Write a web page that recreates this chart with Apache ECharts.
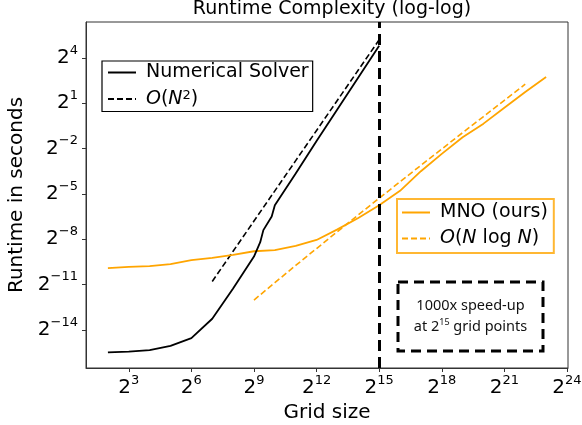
<!DOCTYPE html>
<html>
<head>
<meta charset="UTF-8">
<title>Runtime Complexity</title>
<script src="https://cdn.jsdelivr.net/npm/echarts@6/dist/echarts.min.js"></script>
<style>
    html, body { margin: 0; padding: 0; background: #fff; }
    #chart { width: 582px; height: 425px; }
</style>
</head>
<body>
<div id="chart"></div>
<script>
// all values are log2: grid size N = 2^x, runtime in seconds = 2^y
var solverN = [2, 3, 4, 5, 6, 7, 8, 9, 9.3, 9.45, 9.85, 10, 11, 12, 13, 14, 15];
var solverT = [-15.5, -15.45, -15.34, -15.07, -14.55, -13.27, -11.27, -9.15, -8.2, -7.4, -6.5, -5.75, -3.65, -1.5, 0.6, 2.7, 4.8];

var quadN = [7, 8, 9, 10, 11, 12, 13, 14, 15];
var quadT = [-10.8, -8.8, -6.8, -4.8, -2.8, -0.8, 1.2, 3.2, 5.2];

var mnoN = [2, 3, 4, 5, 6, 7, 8, 9, 10, 11, 12, 13, 14, 15, 16, 17, 18, 19, 20, 21, 22, 23];
var mnoT = [-9.92, -9.83, -9.79, -9.65, -9.39, -9.24, -9.04, -8.8, -8.72, -8.45, -8.05, -7.35, -6.6, -5.75,
            -4.8, -3.5, -2.35, -1.25, -0.35, 0.7, 1.75, 2.74];

var nlognN = [9, 10, 11, 12, 13, 14, 15, 16, 17, 18, 19, 20, 21, 22];
var nlognT = [-12.03, -10.88, -9.74, -8.62, -7.5, -6.39, -5.29, -4.2, -3.11, -2.03, -0.95, 0.12, 1.19, 2.26];

var xTicks = [3, 6, 9, 12, 15, 18, 21, 24];
var yTicks = [-14, -11, -8, -5, -2, 1, 4];
var speedupAt = 15;

var legendText = {
    'Numerical Solver': '{t|Numerical Solver}',
    'O(N^2)': '{i|O}{t|(}{i|N}{s|2}{t|)}',
    'MNO (ours)': '{t|MNO (ours)}',
    'O(N log N)': '{i|O}{t|(}{i|N}{t| log }{i|N}{t|)}'
};

function pairs(xs, ys) {
    return xs.map(function (x, i) { return [x, ys[i]]; });
}
function pow2(v) {
    return '{b|2}{s|' + String(v).replace('-', '\u2212') + '}';
}

var font = 'DejaVu Sans';
var tickRich = {
    b: { fontFamily: font, fontSize: 20, lineHeight: 28, color: '#000' },
    s: { fontFamily: font, fontSize: 13, lineHeight: 13, verticalAlign: 'top', color: '#000' }
};
var legendRich = {
    t: { fontFamily: font, fontSize: 19, lineHeight: 20, color: '#000' },
    i: { fontFamily: font, fontSize: 19, lineHeight: 20, fontStyle: 'italic', color: '#000' },
    s: { fontFamily: font, fontSize: 13, lineHeight: 11, verticalAlign: 'top', color: '#000' }
};

var chart = echarts.init(document.getElementById('chart'));

var option = {
    animation: false,
    title: {
        text: 'Runtime Complexity (log-log)',
        left: 327,
        textAlign: 'center',
        top: -5,
        textStyle: { fontFamily: font, fontSize: 19, fontWeight: 'normal', color: '#000' }
    },
    grid: {
        left: 86, right: 14, top: 22, bottom: 57,
        outerBoundsMode: 'none',
        show: true, borderColor: '#333', borderWidth: 1
    },
    legend: [{
        data: ['Numerical Solver', 'O(N^2)'],
        orient: 'vertical',
        left: 102, top: 61,
        padding: [2, 4, 3, 5],
        itemGap: 7, itemWidth: 28, itemHeight: 14,
        borderColor: '#000', borderWidth: 1.2,
        backgroundColor: '#fff',
        selectedMode: false,
        itemStyle: { opacity: 0 },
        formatter: function (name) { return legendText[name]; },
        textStyle: { padding: [0, 0, 0, 5], rich: legendRich }
    }, {
        data: ['MNO (ours)', 'O(N log N)'],
        orient: 'vertical',
        left: 397, top: 199,
        padding: [4, 6, 5, 4],
        itemGap: 7, itemWidth: 28, itemHeight: 14,
        borderColor: '#ffb732', borderWidth: 2,
        backgroundColor: '#fff',
        selectedMode: false,
        itemStyle: { opacity: 0 },
        formatter: function (name) { return legendText[name]; },
        textStyle: { padding: [0, 0, 0, 5], rich: legendRich }
    }],
    xAxis: {
        type: 'value',
        min: 0.95, max: 24.05,
        name: 'Grid size',
        nameLocation: 'middle',
        nameGap: 32,
        nameTextStyle: { fontFamily: font, fontSize: 20, color: '#000' },
        axisLine: { onZero: false, lineStyle: { color: '#333', width: 1 } },
        axisTick: { customValues: xTicks, length: 4, lineStyle: { color: '#333' } },
        axisLabel: { customValues: xTicks, formatter: pow2, margin: 6, rich: tickRich },
        splitLine: { show: false }
    },
    yAxis: {
        type: 'value',
        min: -16.53, max: 6.38,
        name: 'Runtime in seconds',
        nameLocation: 'middle',
        nameGap: 56,
        nameTextStyle: { fontFamily: font, fontSize: 20, color: '#000' },
        axisLine: { show: true, onZero: false, lineStyle: { color: '#333', width: 1 } },
        axisTick: { show: true, customValues: yTicks, length: 4, lineStyle: { color: '#333' } },
        axisLabel: { customValues: yTicks, formatter: pow2, margin: 8, rich: tickRich },
        splitLine: { show: false }
    },
    series: [{
        name: 'Numerical Solver',
        type: 'line',
        data: pairs(solverN, solverT),
        symbol: 'none',
        z: 4,
        itemStyle: { color: '#000' },
        lineStyle: { color: '#000', width: 1.8 },
        markLine: {
            silent: true,
            symbol: ['none', 'none'],
            label: { show: false },
            lineStyle: { color: '#000', width: 3, type: [11, 6] },
            data: [{ xAxis: speedupAt }]
        }
    }, {
        name: 'O(N^2)',
        type: 'line',
        data: pairs(quadN, quadT),
        symbol: 'none',
        itemStyle: { color: '#000' },
        lineStyle: { color: '#000', width: 1.6, type: [6, 3] }
    }, {
        name: 'MNO (ours)',
        type: 'line',
        data: pairs(mnoN, mnoT),
        symbol: 'none',
        itemStyle: { color: '#ffa500' },
        lineStyle: { color: '#ffa500', width: 1.8 }
    }, {
        name: 'O(N log N)',
        type: 'line',
        data: pairs(nlognN, nlognT),
        symbol: 'none',
        itemStyle: { color: '#ffa500' },
        lineStyle: { color: '#ffa500', width: 1.6, type: [6, 3] }
    }],
    graphic: [{
        type: 'rect',
        shape: { x: 398, y: 282, width: 145, height: 69 },
        style: { fill: '#fff', stroke: '#000', lineWidth: 3, lineDash: [10, 6] },
        z: 10
    }, {
        type: 'text',
        x: 470.5, y: 306,
        style: {
            text: '1000x speed-up',
            fontFamily: 'Noto Sans', fontSize: 14.5, fill: '#111',
            align: 'center', verticalAlign: 'middle'
        },
        z: 11
    }, {
        type: 'text',
        x: 470.5, y: 327,
        style: {
            text: '{n|at 2}{s|15}{n| grid points}',
            align: 'center', verticalAlign: 'middle',
            rich: {
                n: { fontFamily: 'Noto Sans', fontSize: 14.5, lineHeight: 18, fill: '#111' },
                s: { fontFamily: 'Noto Sans', fontSize: 9, lineHeight: 9, verticalAlign: 'top', fill: '#111' }
            }
        },
        z: 11
    }]
};

chart.setOption(option);
</script>
</body>
</html>
